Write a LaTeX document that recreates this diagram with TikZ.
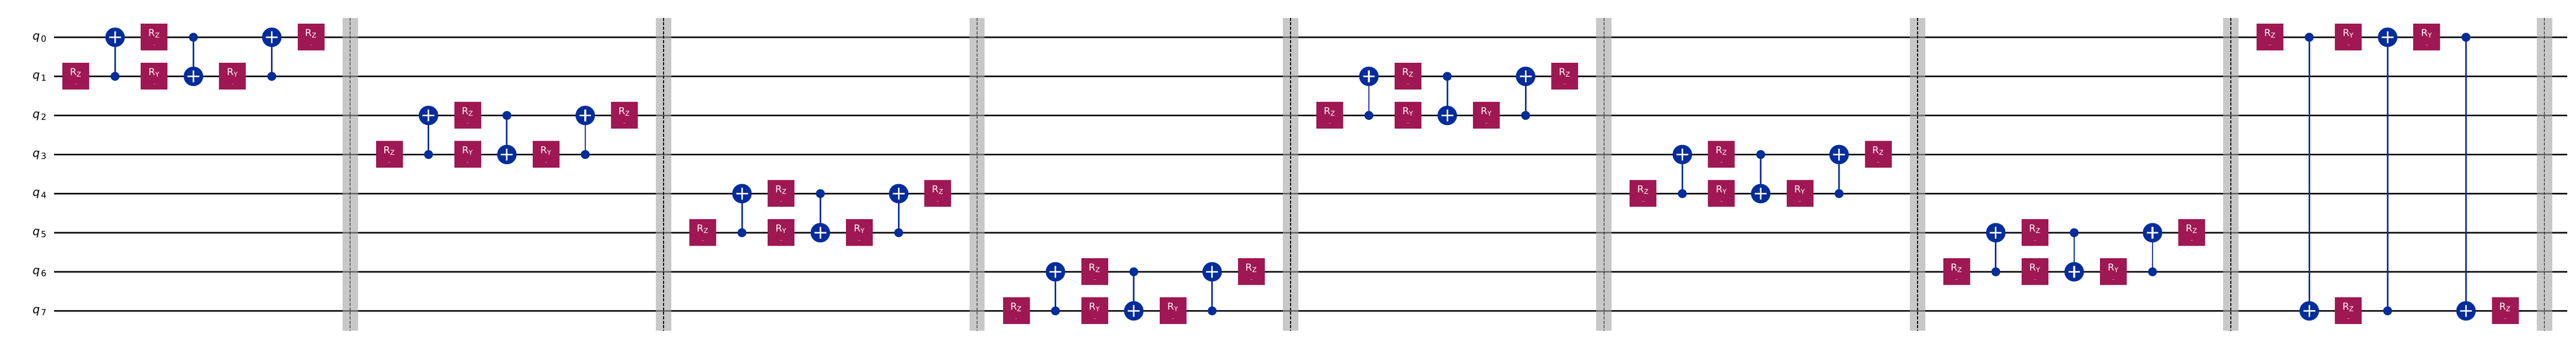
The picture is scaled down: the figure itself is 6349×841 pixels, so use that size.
\documentclass[tikz,border=0pt]{standalone}
\usepackage{fontspec}
\setmainfont{DejaVu Sans}
\definecolor{gatemag}{HTML}{9F1853}
\definecolor{cxblue}{HTML}{002D9C}
\definecolor{bandgray}{HTML}{A8A8A8}
\definecolor{parampink}{HTML}{CF7FA6}
\tikzset{
  wire/.style={draw=black,line width=4pt},
  band/.style={draw=bandgray,draw opacity=.63,line width=38pt},
  barrierdash/.style={draw=black,line width=2pt,dash pattern=on 7.7pt off 3.3pt},
  qlabel/.style={anchor=base east,inner sep=0pt,outer sep=0pt,text=black},
  rgate/.style={rectangle,fill=gatemag,minimum width=66pt,minimum height=66pt,inner sep=0pt,outer sep=0pt},
  rtext/.style={anchor=base,inner sep=0pt,outer sep=0pt,text=white},
  ctrl/.style={circle,fill=cxblue,minimum size=22pt,inner sep=0pt,outer sep=0pt},
  targ/.style={circle,fill=cxblue,minimum size=48pt,inner sep=0pt,outer sep=0pt},
  plusarm/.style={draw=white,line width=4pt},
  cxline/.style={draw=cxblue,line width=3.6pt},
  parammark/.style={fill=parampink}
}
\newcommand{\rgateat}[5]{% name, column, wire, letter, mark width
  \node[rgate] (#1) at ({colx(#2)},{wy(#3)}) {};
  \node[rtext] (#1t) at ([xshift=-0.7pt,yshift=2pt]#1.center)
    {\fontsize{23.5}{24}\selectfont R\raisebox{-3.5pt}{\fontsize{16.5}{17}\selectfont #4}};
  \fill[parammark] ([xshift=-#5*0.5pt,yshift=-19.5pt]#1.center) rectangle ++(#5 pt,1.3pt);
}
\newcommand{\cxat}[4]{% name, column, control wire, target wire
  \node[ctrl] (#1c) at ({colx(#2)},{wy(#3)}) {};
  \node[targ] (#1t) at ({colx(#2)},{wy(#4)}) {};
  \draw[cxline] (#1c) -- (#1t);
  \draw[plusarm] ([xshift=-14.5pt]#1t.center) -- ([xshift=14.5pt]#1t.center);
  \draw[plusarm] ([yshift=-14.5pt]#1t.center) -- ([yshift=14.5pt]#1t.center);
}
\begin{document}
\begin{tikzpicture}[x=1pt,y=-1pt,
  declare function={colx(\c)=187+96.57*\c; wy(\w)=92+96.5*\w;}]
\useasboundingbox (0,0) rectangle (6349,841);
\fill[white] (0,0) rectangle (6349,841);
% wires and labels
\foreach \i in {0,...,7} {
  \coordinate (wl\i) at (133,{wy(\i)});
  \coordinate (wr\i) at (6327,{wy(\i)});
  \draw[wire] (wl\i) -- (wr\i);
  \node[qlabel] (q\i) at (114.5,{wy(\i)+6})
    {\fontsize{28}{28}\selectfont\itshape q\kern3pt\raisebox{-5.5pt}{\fontsize{21}{21}\selectfont\upshape \i}};
}
% barriers
\foreach \b in {0,...,7} {
  \coordinate (bt\b) at ({colx(8*\b+7)},44);
  \coordinate (bb\b) at ({colx(8*\b+7)},816);
  \draw[band] (bt\b) -- (bb\b);
  \draw[barrierdash] (bt\b) -- (bb\b);
}
% repeated two-qubit blocks: block / upper role wire / lower role wire / mark width
\foreach \b/\a/\c/\m in {0/0/1/4,1/2/3/4,2/4/5/5,3/6/7/5,4/1/2/5,5/3/4/6,6/5/6/6,7/7/0/7} {
  \pgfmathtruncatemacro{\bs}{8*\b}
  \pgfmathtruncatemacro{\cA}{\bs}
  \pgfmathtruncatemacro{\cB}{\bs+1}
  \pgfmathtruncatemacro{\cC}{\bs+2}
  \pgfmathtruncatemacro{\cD}{\bs+3}
  \pgfmathtruncatemacro{\cE}{\bs+4}
  \pgfmathtruncatemacro{\cF}{\bs+5}
  \pgfmathtruncatemacro{\cG}{\bs+6}
  \rgateat{r\b a}{\cA}{\c}{Z}{\m}
  \cxat{x\b a}{\cB}{\c}{\a}
  \rgateat{r\b b}{\cC}{\a}{Z}{\m}
  \rgateat{r\b c}{\cC}{\c}{Y}{\m}
  \cxat{x\b b}{\cD}{\a}{\c}
  \rgateat{r\b d}{\cE}{\c}{Y}{\m}
  \cxat{x\b c}{\cF}{\c}{\a}
  \rgateat{r\b e}{\cG}{\a}{Z}{\m}
}
\end{tikzpicture}
\end{document}
